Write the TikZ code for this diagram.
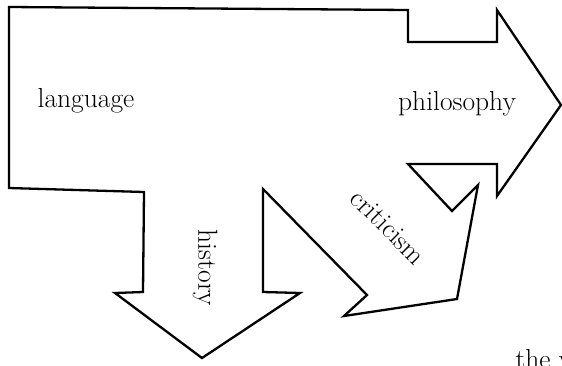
\documentclass[tikz,border=0pt]{standalone}
\usepackage{tikz}
\usetikzlibrary{positioning}
\definecolor{inkline}{RGB}{0,0,0}

\begin{document}
\begin{tikzpicture}[x=1pt,y=-1pt,
    flowword/.style={font=\fontsize{27.5}{32}\selectfont},
    flowedge/.style={draw=inkline,line width=2.3pt,line join=miter}]
  \useasboundingbox (0,0) rectangle (562,365);
  % one outline: the big block splits into three arrows
  \draw[flowedge] (9,7) -- (408,10) -- (408,42) -- (497,42) -- (497,10)
      -- (561,105) -- (497,196) -- (497,164) -- (408,164)
      -- (452,211) -- (478,185) -- (457,299) -- (344,316) -- (367,295)
      -- (263,189) -- (263,292) -- (300,293) -- (202,358) -- (115,293)
      -- (143,292) -- (144,192) -- (9,188) -- cycle;
  \node[flowword,anchor=base] (lang) at (86,107) {language};
  \node[flowword,anchor=base] (phil) at (457,110) {philosophy};
  \node[flowword,rotate=-90] (hist) at (205,268) {history};
  \node[flowword,rotate=-45] (crit) at (388,227) {criticism};
  \node[flowword,anchor=base west] (tail) at (512,368) {the v};
\end{tikzpicture}
\end{document}
